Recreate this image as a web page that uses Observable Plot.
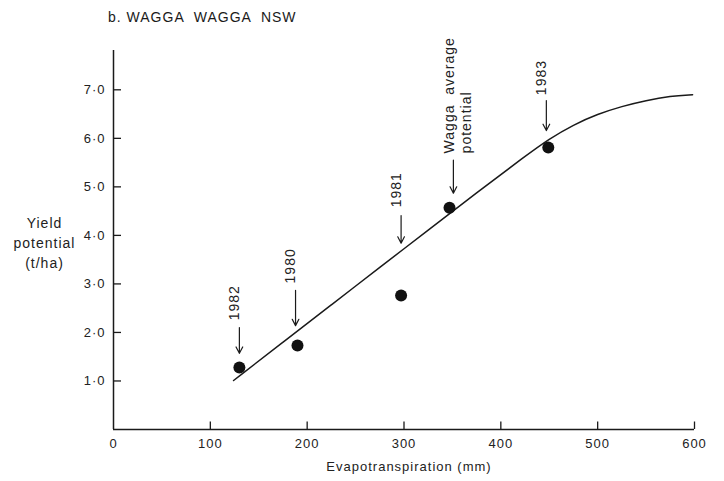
<!DOCTYPE html>
<html>
<head>
<meta charset="utf-8">
<script src="https://cdn.jsdelivr.net/npm/d3@7"></script>
<script src="https://cdn.jsdelivr.net/npm/@observablehq/plot@0.6"></script>
<style>
  body { margin: 0; background: #fff; font-family: "Liberation Sans", Arial, Helvetica, sans-serif; color: #1a1a1a; }
  #title { height: 40px; box-sizing: border-box; padding: 8px 0 0 108px; font-size: 14px; line-height: 18px; letter-spacing: 1px; white-space: pre; }
  #chart svg text { letter-spacing: 1px; }
</style>
</head>
<body>
<div id="title"></div>
<div id="chart"></div>
<script>
// ---- data ----
const titleText = "b. WAGGA  WAGGA  NSW";
const xLabel = "Evapotranspiration (mm)";
const yLabel = "Yield\npotential\n(t/ha)";
const xTickValues = [0, 100, 200, 300, 400, 500, 600];
const yTickValues = [1, 2, 3, 4, 5, 6, 7];

const pointLabels = ["1982", "1980", "1981", "Wagga average potential", "1983"];
const pointET = [130, 190, 297, 347, 449];
const pointYield = [1.28, 1.73, 2.76, 4.57, 5.81];

const curveET = [124, 175, 225, 275, 325, 375, 425, 450, 475, 500, 525, 550, 575, 598];
const curveYield = [1.01, 1.80, 2.57, 3.34, 4.11, 4.88, 5.63, 5.99, 6.28, 6.50, 6.66, 6.78, 6.87, 6.90];

const arrowLabels = ["1982", "1980", "1981", "Wagga  average\npotential", "1983"];
const arrowET = [130, 188, 297, 351, 447];
const arrowTop = [2.10, 2.87, 4.41, 5.55, 6.78];
const arrowTip = [1.57, 2.14, 3.84, 4.87, 6.16];
const labelStart = [2.25, 3.01, 4.58, 5.69, 6.89];

// ---- build ----
document.getElementById("title").textContent = titleText;

const points = pointLabels.map((l, i) => ({label: l, et: pointET[i], y: pointYield[i]}));
const curve = curveET.map((e, i) => ({et: e, y: curveYield[i]}));
const arrows = arrowLabels.map((l, i) => ({label: l, et: arrowET[i], top: arrowTop[i], tip: arrowTip[i], start: labelStart[i]}));

const W = 724, H = 441, mL = 113, mR = 30, mT = 10, mB = 52;
const fw = W - mL - mR, fh = H - mT - mB;
const yMax = 7.81;
const ink = "#1a1a1a";

const chart = Plot.plot({
  width: W, height: H,
  marginLeft: mL, marginRight: mR, marginTop: mT, marginBottom: mB,
  x: {domain: [0, 600], axis: null},
  y: {domain: [0, yMax], axis: null},
  style: {fontFamily: '"Liberation Sans", Arial, Helvetica, sans-serif', color: ink, background: "#fff", overflow: "visible"},
  marks: [
    Plot.ruleY([0], {x1: 0, x2: 600, stroke: ink, strokeWidth: 1.5}),
    Plot.ruleX([0], {y1: 0, y2: yMax, stroke: ink, strokeWidth: 1.5}),
    Plot.tickX(xTickValues.filter(d => d > 0), {x: d => d, insetTop: fh - 7.5, stroke: ink, strokeWidth: 1.3}),
    Plot.tickY(yTickValues, {y: d => d, insetRight: fw - 8, stroke: ink, strokeWidth: 1.3}),
    Plot.text(xTickValues, {x: d => d, y: 0, dy: 14, lineAnchor: "middle", fontSize: 13, fill: "#222"}),
    Plot.text(yTickValues, {x: 0, y: d => d, dx: -8, textAnchor: "end", lineAnchor: "middle", text: d => d.toFixed(1).replace(".", "·"), fontSize: 13, fill: "#222"}),
    Plot.text([xLabel], {x: 300, y: 0, dx: 5, dy: 37, lineAnchor: "middle", fontSize: 13, fill: "#222"}),
    Plot.text([yLabel], {x: 0, y: 3.88, dx: -69, lineAnchor: "middle", lineHeight: 1.43, fontSize: 14, fill: "#222"}),
    Plot.line(curve, {x: "et", y: "y", curve: "basis", stroke: ink, strokeWidth: 1.5}),
    Plot.dot(points, {x: "et", y: "y", r: 6, fill: "#111", stroke: "none"}),
    Plot.arrow(arrows, {x1: "et", x2: "et", y1: "top", y2: "tip", headLength: 9, headAngle: 55, stroke: ink, strokeWidth: 1.2}),
    Plot.text(arrows.filter(d => !d.label.includes("\n")), {x: "et", y: "start", text: "label", rotate: -90, textAnchor: "start", lineAnchor: "middle", dx: -5, fontSize: 14, fill: "#222"}),
    Plot.text(arrows.filter(d => d.label.includes("\n")), {x: "et", y: "start", text: "label", rotate: -90, textAnchor: "start", lineAnchor: "middle", lineHeight: 1.2, dx: 3.5, fontSize: 14, fill: "#222"})
  ]
});
document.getElementById("chart").appendChild(chart);
</script>
</body>
</html>
